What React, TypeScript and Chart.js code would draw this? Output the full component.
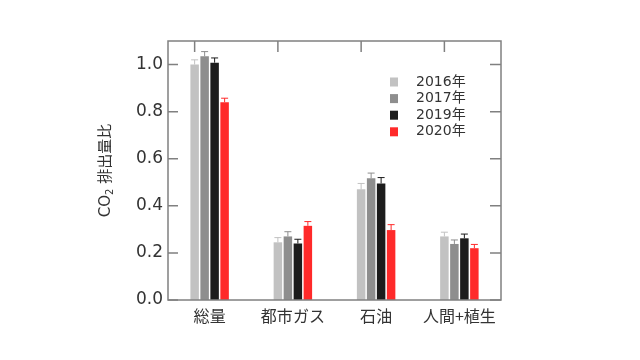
import React, { useEffect, useRef } from "react";
import { Chart, registerables } from "chart.js";

Chart.register(...registerables);

const categories = ["総量", "都市ガス", "石油", "人間+植生"];
const years = ["2016年", "2017年", "2019年", "2020年"];
const v2016 = [1.0, 0.245, 0.47, 0.27];
const v2017 = [1.035, 0.27, 0.517, 0.238];
const v2019 = [1.008, 0.24, 0.495, 0.262];
const v2020 = [0.84, 0.315, 0.297, 0.22];
const e2016 = [0.02, 0.02, 0.025, 0.018];
const e2017 = [0.02, 0.02, 0.022, 0.017];
const e2019 = [0.02, 0.018, 0.025, 0.018];
const e2020 = [0.017, 0.018, 0.023, 0.016];
const yTicks = [0, 0.2, 0.4, 0.6, 0.8, 1.0];
const colors = ["#c2c2c2", "#8e8e8e", "#1c1c1c", "#ff2a2a"];

const FONT = "'DejaVu Sans', 'Noto Sans CJK JP', sans-serif";
const CJK = "'Noto Sans CJK JP', sans-serif";
const TEXT = "#333333";

const decorPlugin = {
  id: "decor",
  afterDatasetsDraw(chart: any) {
    const ctx = chart.ctx;
    const area = chart.chartArea;
    const y = chart.scales.y;
    ctx.save();
    // error bars
    chart.data.datasets.forEach((ds: any, di: number) => {
      const meta = chart.getDatasetMeta(di);
      meta.data.forEach((bar: any, i: number) => {
        const top = y.getPixelForValue(ds.data[i] + ds.errors[i]);
        ctx.strokeStyle = ds.backgroundColor;
        ctx.lineWidth = 1;
        ctx.beginPath();
        ctx.moveTo(bar.x, bar.y);
        ctx.lineTo(bar.x, top);
        ctx.moveTo(bar.x - 3.5, top);
        ctx.lineTo(bar.x + 3.5, top);
        ctx.stroke();
      });
    });
    // frame
    ctx.strokeStyle = "#808080";
    ctx.lineWidth = 1.5;
    ctx.strokeRect(area.left, area.top, area.right - area.left, area.bottom - area.top);
    // inward ticks
    ctx.beginPath();
    yTicks.forEach((v) => {
      const py = y.getPixelForValue(v);
      ctx.moveTo(area.left, py);
      ctx.lineTo(area.left + 10, py);
      ctx.moveTo(area.right, py);
      ctx.lineTo(area.right - 11, py);
    });
    const meta0 = chart.getDatasetMeta(0);
    meta0.data.forEach((bar: any) => {
      ctx.moveTo(bar.x, area.top);
      ctx.lineTo(bar.x, area.top + 11);
    });
    ctx.stroke();
    // legend
    const lx = area.left + 222;
    const ly = area.top + 41;
    ctx.font = `14px ${FONT}`;
    ctx.textBaseline = "middle";
    ctx.textAlign = "left";
    chart.data.datasets.forEach((ds: any, di: number) => {
      const cy = ly + di * 16.6;
      ctx.fillStyle = ds.backgroundColor;
      ctx.fillRect(lx, cy - 4.5, 8, 9);
      ctx.fillStyle = TEXT;
      ctx.fillText(ds.label, lx + 26, cy);
    });
    // y title with subscript
    const midY = (area.top + area.bottom) / 2;
    ctx.translate(105, midY);
    ctx.rotate(-Math.PI / 2);
    const big = `15px ${FONT}`;
    const small = `10px ${FONT}`;
    ctx.font = big;
    const w1 = ctx.measureText("CO").width;
    const w3 = ctx.measureText(" 排出量比").width;
    ctx.font = small;
    const w2 = ctx.measureText("2").width;
    const total = w1 + w2 + w3;
    let x = -total / 2;
    ctx.fillStyle = TEXT;
    ctx.textBaseline = "alphabetic";
    ctx.font = big;
    ctx.fillText("CO", x, 5);
    x += w1;
    ctx.font = small;
    ctx.fillText("2", x, 8);
    x += w2;
    ctx.font = big;
    ctx.fillText(" 排出量比", x, 5);
    ctx.restore();
  },
};

export default function App() {
  const ref = useRef<HTMLCanvasElement>(null);
  useEffect(() => {
    const mk = (label: string, data: number[], errors: number[], color: string) => ({
      label,
      data,
      errors,
      backgroundColor: color,
      borderWidth: 0,
      categoryPercentage: 0.48,
      barPercentage: 0.85,
    });
    const chart = new Chart(ref.current as HTMLCanvasElement, {
      type: "bar",
      data: {
        labels: categories,
        datasets: [
          mk(years[0], v2016, e2016, colors[0]),
          mk(years[1], v2017, e2017, colors[1]),
          mk(years[2], v2019, e2019, colors[2]),
          mk(years[3], v2020, e2020, colors[3]),
        ] as any,
      },
      options: {
        animation: false,
        responsive: true,
        maintainAspectRatio: false,
        layout: { padding: { top: 41, right: 139, left: 0, bottom: 0 } },
        plugins: { legend: { display: false }, tooltip: { enabled: false } },
        scales: {
          x: {
            grid: { display: false, drawTicks: false },
            border: { display: false },
            ticks: {
              padding: 6,
              color: TEXT,
              autoSkip: false,
              maxRotation: 0,
              minRotation: 0,
              font: { size: 16, family: CJK },
            },
            afterFit: (s: any) => {
              s.height = 60;
            },
          },
          y: {
            min: 0,
            max: 1.1,
            grid: { display: false, drawTicks: false },
            border: { display: false },
            afterBuildTicks: (s: any) => {
              s.ticks = yTicks.map((v) => ({ value: v }));
            },
            ticks: {
              padding: 5,
              color: TEXT,
              font: { size: 17, family: FONT },
              callback: (v: any) => Number(v).toFixed(1),
            },
            afterFit: (s: any) => {
              s.width = 168;
            },
          },
        },
      },
      plugins: [decorPlugin],
    });
    return () => chart.destroy();
  }, []);
  return (
    <div style={{ position: "fixed", left: 0, top: 0, width: 640, height: 360, background: "#fff" }}>
      <canvas ref={ref} />
    </div>
  );
}
